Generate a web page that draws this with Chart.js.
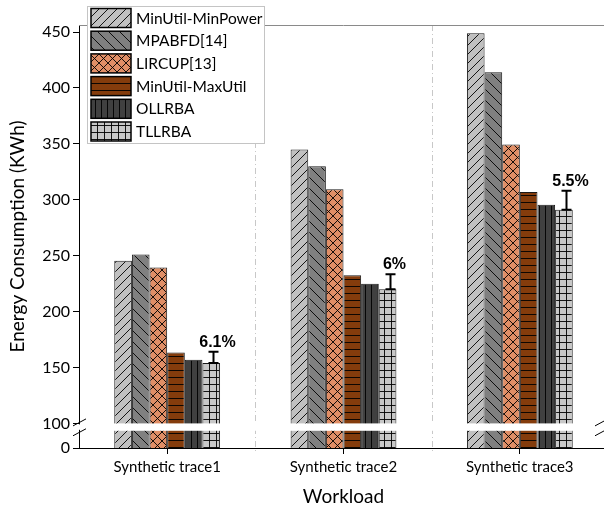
<!DOCTYPE html>
<html lang="en">
<head>
<meta charset="UTF-8" />
<title>Energy Consumption</title>
<script src="https://cdn.jsdelivr.net/npm/chart.js"></script>
<style>
  html, body { margin: 0; padding: 0; background: #fff; overflow: hidden; }
  canvas { display: block; }
</style>
</head>
<body>
<canvas id="chart" width="608" height="511"></canvas>
<script>
// data
const workloads = ['Synthetic trace1', 'Synthetic trace2', 'Synthetic trace3'];
const seriesNames = ['MinUtil-MinPower', 'MPABFD[14]', 'LIRCUP[13]', 'MinUtil-MaxUtil', 'OLLRBA', 'TLLRBA'];
const minPower = [245.5, 345, 449];
const mpabfd   = [251, 330, 414];
const lircup   = [239.5, 309.5, 349.5];
const maxUtil  = [163.5, 232.5, 307];
const ollrba   = [157, 225, 295.5];
const tllrba   = [154, 220, 291];
const tllrbaErrTop = [164, 233.5, 308];
const gainLabels = ['6.1%', '6%', '5.5%'];
const yTicks = [100, 150, 200, 250, 300, 350, 400, 450];
const axisZero = 78;   // where "0" sits once the axis is broken
const axisTop = 456.3;

const FONT = 'Lato, "Open Sans", sans-serif';

function makePattern(bg, kind) {
  const sizes = { up: 9, down: 11, cross: 9, horiz: 7, vert: 6, grid: 7 };
  const s = sizes[kind];
  const c = document.createElement('canvas');
  c.width = s; c.height = s;
  const g = c.getContext('2d');
  g.fillStyle = bg;
  g.fillRect(0, 0, s, s);
  g.strokeStyle = '#000';
  g.lineWidth = 0.9;
  g.beginPath();
  if (kind === 'up' || kind === 'cross') {
    for (let k = -1; k <= 1; k++) { g.moveTo(k * s, s); g.lineTo(k * s + s, 0); }
  }
  if (kind === 'down' || kind === 'cross') {
    for (let k = -1; k <= 1; k++) { g.moveTo(k * s, 0); g.lineTo(k * s + s, s); }
  }
  if (kind === 'horiz' || kind === 'grid') { g.moveTo(0, s - 0.5); g.lineTo(s, s - 0.5); }
  if (kind === 'vert' || kind === 'grid') { g.moveTo(s - 0.5, 0); g.lineTo(s - 0.5, s); }
  g.stroke();
  return g.createPattern(c, 'repeat');
}

const ctx = document.getElementById('chart').getContext('2d');
const fills = [
  makePattern('#c0c0c0', 'up'),
  makePattern('#808080', 'down'),
  makePattern('#e08e66', 'cross'),
  makePattern('#843c0c', 'horiz'),
  makePattern('#404040', 'vert'),
  makePattern('#c8c8c8', 'grid')
];
const allSeries = [minPower, mpabfd, lircup, maxUtil, ollrba, tllrba];

const extras = {
  id: 'extras',
  beforeDatasetsDraw(chart) {
    const c = chart.ctx, a = chart.chartArea, x = chart.scales.x;
    c.save();
    // dashed separators between workloads
    c.strokeStyle = '#c8c8c8';
    c.lineWidth = 1;
    c.setLineDash([6, 3, 1, 3]);
    for (let i = 0; i < workloads.length - 1; i++) {
      const px = Math.round((x.getPixelForValue(i) + x.getPixelForValue(i + 1)) / 2) + 0.5;
      c.beginPath(); c.moveTo(px, a.top); c.lineTo(px, a.bottom + 5); c.stroke();
    }
    c.setLineDash([]);
    // top frame line
    c.strokeStyle = '#8a8a8a';
    c.beginPath(); c.moveTo(a.left, a.top + 0.5); c.lineTo(a.right, a.top + 0.5); c.stroke();
    c.restore();
  },
  afterDatasetsDraw(chart) {
    const c = chart.ctx, a = chart.chartArea, y = chart.scales.y;
    c.save();
    // axis break gap
    const g1 = y.getPixelForValue(100), g2 = y.getPixelForValue(93.4);
    c.fillStyle = '#fff';
    c.fillRect(a.left + 1, g1, a.right - a.left, g2 - g1);
    // break slashes on both ends
    c.strokeStyle = '#000';
    c.lineWidth = 1;
    [a.left, 601].forEach(function (bx) {
      c.fillStyle = '#fff';
      c.fillRect(bx - 2, g1 + 1, 4, g2 - g1 - 2);
      [g1 - 0.5, g2 + 2].forEach(function (cy) {
        c.beginPath(); c.moveTo(bx - 6, cy + 3); c.lineTo(bx + 7, cy - 4); c.stroke();
      });
    });
    // error bars and labels on TLLRBA
    const meta = chart.getDatasetMeta(5);
    c.lineWidth = 2;
    c.fillStyle = '#000';
    c.font = 'bold 16px "Liberation Sans", Arial, sans-serif';
    c.textAlign = 'center';
    c.textBaseline = 'alphabetic';
    meta.data.forEach(function (bar, i) {
      const bx = Math.round(bar.x) + 2.5;
      const yb = y.getPixelForValue(tllrba[i]);
      const yt = y.getPixelForValue(tllrbaErrTop[i]);
      c.beginPath();
      c.moveTo(bx, yb); c.lineTo(bx, yt);
      c.moveTo(bx - 5, yb); c.lineTo(bx + 5, yb);
      c.moveTo(bx - 5, yt); c.lineTo(bx + 5, yt);
      c.stroke();
      c.fillText(gainLabels[i], bx + 4, yt - 5);
    });
    c.restore();
  },
  afterDraw(chart) {
    // legend box inside the plot
    const c = chart.ctx;
    c.save();
    c.fillStyle = '#fff';
    c.fillRect(87.5, 6.5, 177, 137);
    c.strokeStyle = '#c4c4c4';
    c.lineWidth = 1;
    c.strokeRect(87.5, 6.5, 177, 137);
    c.font = '15.5px ' + FONT;
    c.textBaseline = 'middle';
    c.textAlign = 'left';
    seriesNames.forEach(function (name, i) {
      const top = 8.5 + i * 22.7;
      c.fillStyle = fills[i];
      c.fillRect(91, top, 40, 19);
      c.strokeStyle = '#000';
      c.lineWidth = 1.5;
      c.strokeRect(91, top, 40, 19);
      c.fillStyle = '#000';
      c.fillText(name, 136, top + 10);
    });
    c.restore();
  }
};

new Chart(ctx, {
  type: 'bar',
  data: {
    labels: workloads,
    datasets: seriesNames.map(function (name, i) {
      return {
        label: name,
        data: allSeries[i],
        backgroundColor: fills[i],
        borderColor: '#1a1a1a',
        borderWidth: 1,
        borderSkipped: 'bottom',
        categoryPercentage: 0.6,
        barPercentage: 1.0
      };
    })
  },
  options: {
    responsive: false,
    devicePixelRatio: 1,
    animation: false,
    layout: { padding: { top: 25, right: 0, left: 0, bottom: 0 } },
    plugins: { legend: { display: false }, tooltip: { enabled: false } },
    scales: {
      x: {
        offset: true,
        grid: { display: true, offset: false, drawOnChartArea: false, drawTicks: true, tickLength: 6, color: '#000' },
        border: { display: true, color: '#000', width: 1 },
        ticks: { color: '#000', font: { family: FONT, size: 15 }, padding: 4 },
        title: { display: true, text: 'Workload', color: '#000', font: { family: FONT, size: 19 }, padding: { top: 4, bottom: 3 } },
        afterFit(scale) { scale.height = 63; }
      },
      y: {
        min: axisZero,
        max: axisTop,
        afterBuildTicks(scale) {
          scale.ticks = [{ value: axisZero }].concat(yTicks.map(function (v) { return { value: v }; }));
        },
        grid: { display: true, drawOnChartArea: false, drawTicks: true, tickLength: 6, color: '#000' },
        border: { display: true, color: '#000', width: 1 },
        ticks: {
          color: '#000',
          padding: 3,
          font: { family: FONT, size: 16 },
          callback: function (v) { return v < 100 ? '0' : v; }
        },
        title: { display: true, text: 'Energy Consumption (KWh)', color: '#000', font: { family: FONT, size: 19 }, padding: { top: 6, bottom: 4 } },
        afterFit(scale) { scale.width = 79; }
      }
    }
  },
  plugins: [extras]
});
</script>
</body>
</html>
